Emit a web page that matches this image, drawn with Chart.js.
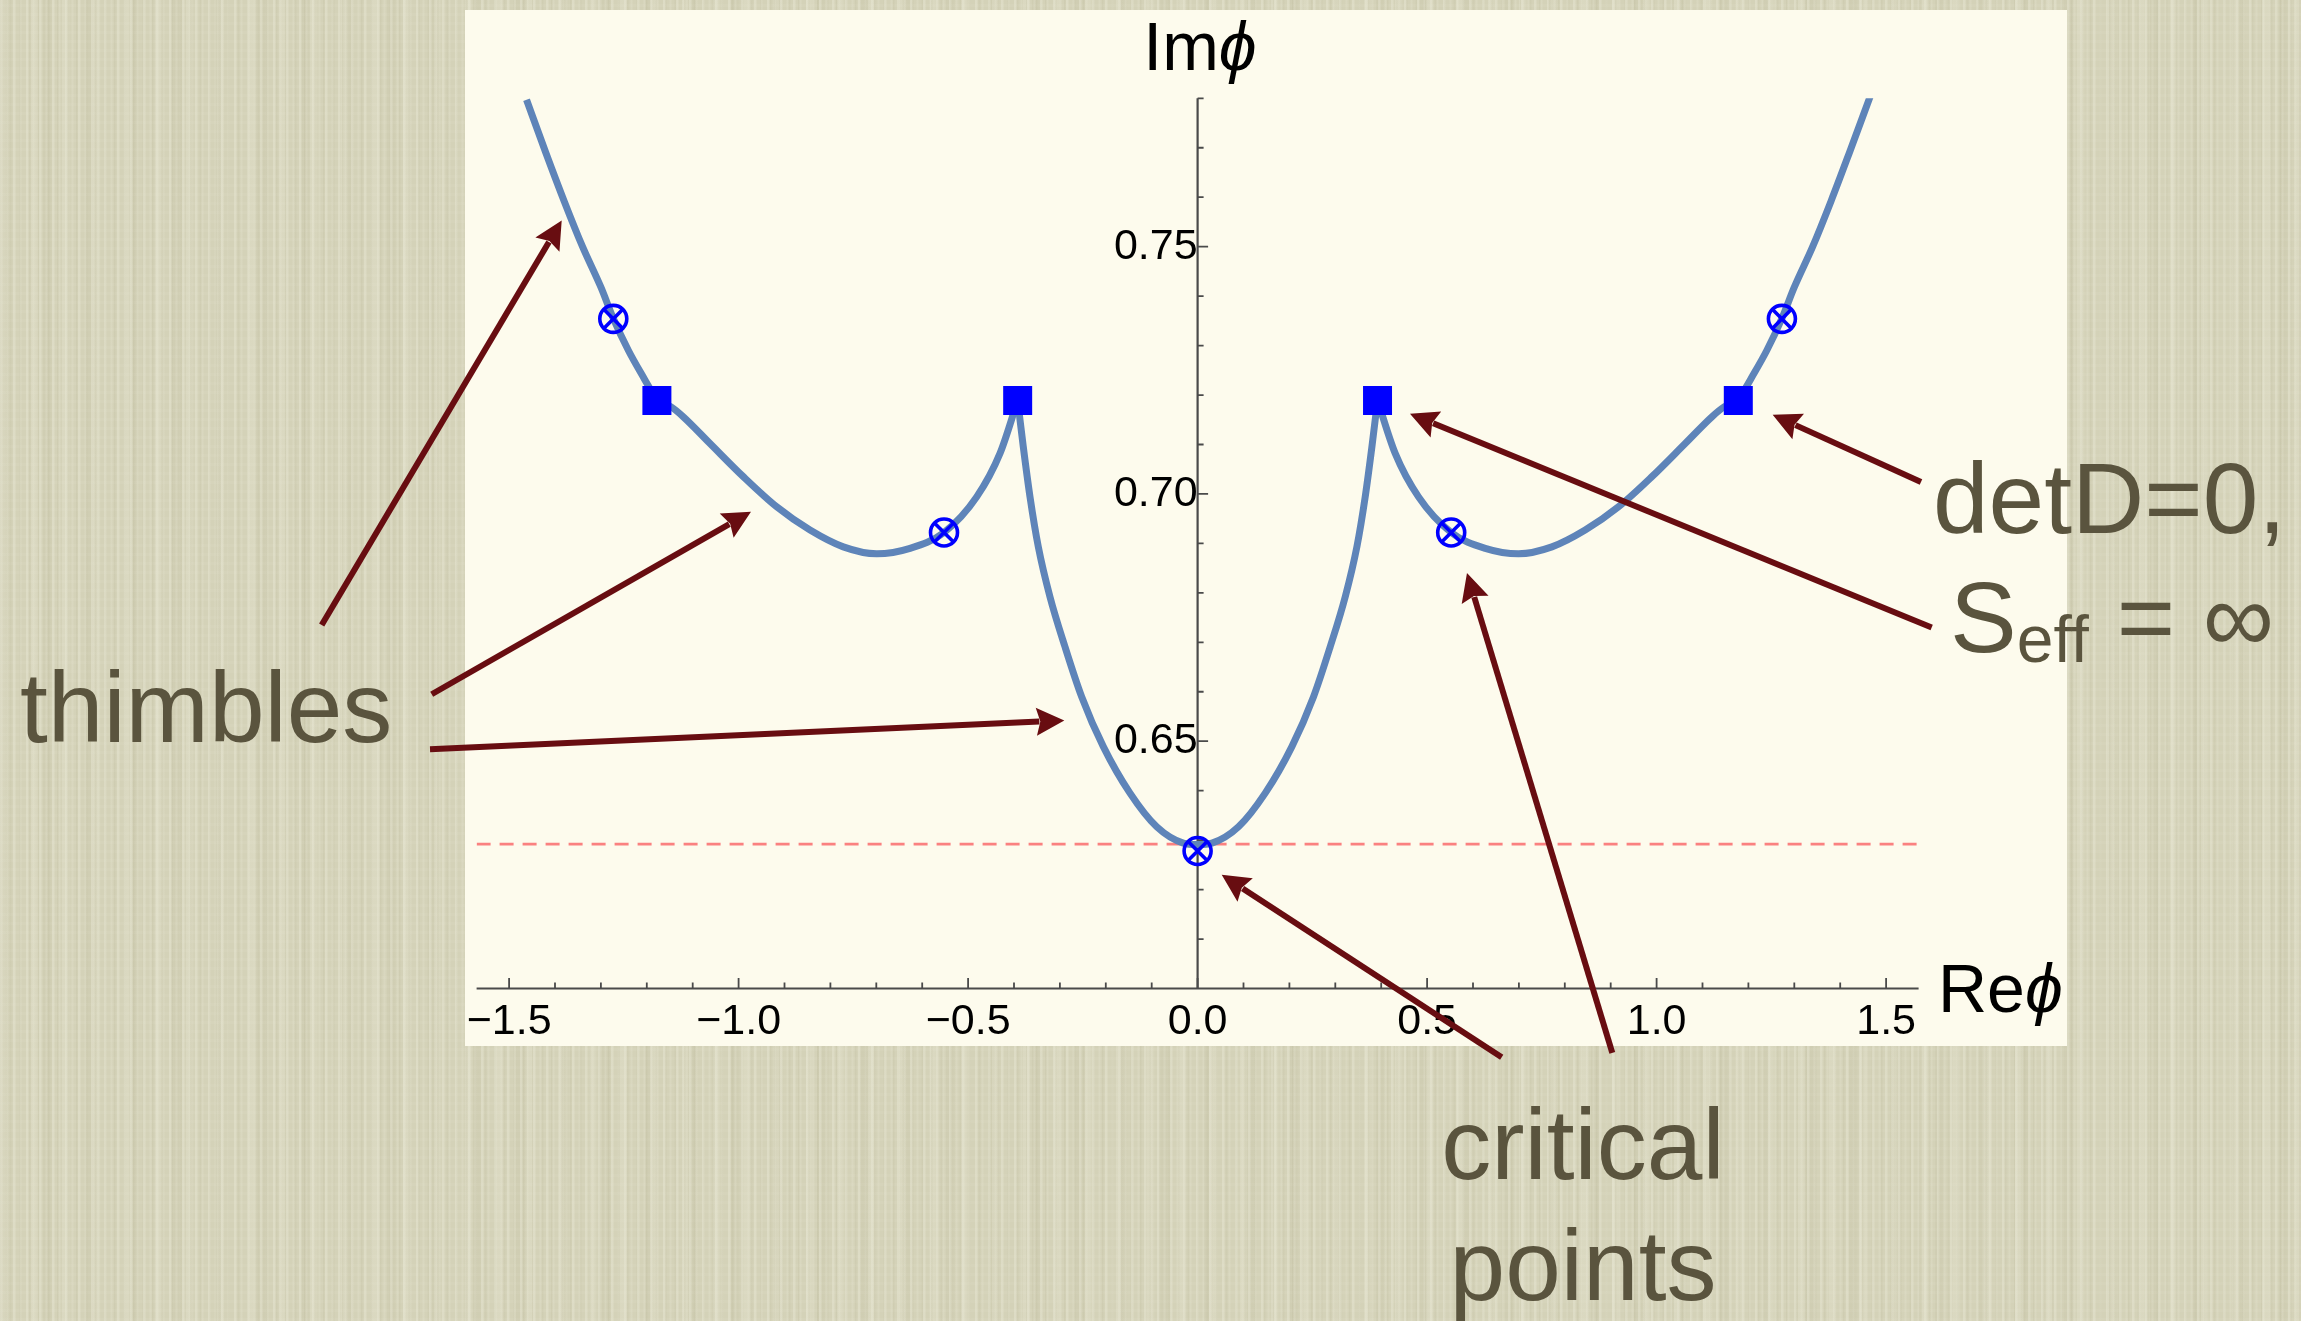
<!DOCTYPE html>
<html>
<head>
<meta charset="utf-8">
<title>Thimbles and critical points</title>
<script src="https://cdn.jsdelivr.net/npm/chart.js@4.4.1/dist/chart.umd.min.js"></script>
<style>
  html, body { margin: 0; padding: 0; }
  body {
    width: 2301px;
    height: 1321px;
    overflow: hidden;
    position: relative;
    font-family: "Liberation Sans", Arial, Helvetica, sans-serif;
    background-color: #d4d2b8;
    /* linen-like vertical streaks */
    background-image:
      repeating-linear-gradient(90deg, rgba(232,231,212,0.45) 0 2px, rgba(232,231,212,0) 3px 6px, rgba(232,231,212,0.25) 7px 8px, rgba(232,231,212,0) 9px 13px),
      repeating-linear-gradient(90deg, rgba(170,166,132,0.12) 0 1px, rgba(170,166,132,0) 2px 9px, rgba(170,166,132,0.10) 10px 11px, rgba(170,166,132,0) 12px 19px),
      repeating-linear-gradient(90deg, rgba(240,239,222,0.22) 0 5px, rgba(240,239,222,0) 8px 31px),
      repeating-linear-gradient(90deg, rgba(160,156,120,0.08) 0 7px, rgba(160,156,120,0) 10px 43px),
      repeating-linear-gradient(0deg, rgba(255,255,240,0.05) 0 3px, rgba(0,0,0,0) 3px 9px);
  }
  #panel { position: absolute; left: 465px; top: 10px; width: 1602px; height: 1036px; background: #fdfbed; }
  #plot { position: absolute; left: 0; top: 0; }
  .note { position: absolute; color: #5a543e; font-size: 100px; line-height: 1; white-space: nowrap; }
  .axis-title { position: absolute; color: #000; font-size: 68px; line-height: 1; white-space: nowrap; }
  .phi { font-style: italic; }
</style>
</head>
<body>
<div id="panel"></div>
<canvas id="plot" width="2301" height="1321"></canvas>

<div class="axis-title" style="left:1100px; top:12.4px; width:200px; text-align:center;">Im<span class="phi">ϕ</span></div>
<div class="axis-title" style="left:1938px; top:954.4px;">Re<span class="phi">ϕ</span></div>

<div class="note" style="left:20px; top:657.4px;">thimbles</div>
<div class="note" style="left:1933px; top:448.4px;">detD=0,</div>
<div class="note" style="left:1950px; top:567.4px;">S<span style="font-size:66px; position:relative; top:10px;">eff</span> = ∞</div>
<div class="note" style="left:1383px; top:1084px; width:400px; text-align:center; line-height:121px;">critical<br>points</div>

<script>
// axis ranges
const xMin = -1.5708, xMax = 1.5708;
const yMin = 0.60, yMax = 0.78;

// tick positions and labels
const xMajorTicks = [-1.5, -1.0, -0.5, 0, 0.5, 1.0, 1.5];
const xTickLabels = ['\u22121.5', '\u22121.0', '\u22120.5', '0.0', '0.5', '1.0', '1.5'];
const xMinorTicks = [-1.4, -1.3, -1.2, -1.1, -0.9, -0.8, -0.7, -0.6, -0.4, -0.3, -0.2, -0.1,
                     0.1, 0.2, 0.3, 0.4, 0.6, 0.7, 0.8, 0.9, 1.1, 1.2, 1.3, 1.4];
const yMajorTicks = [0.65, 0.70, 0.75];
const yTickLabels = ['0.65', '0.70', '0.75'];
const yMinorTicks = [0.61, 0.62, 0.63, 0.64, 0.66, 0.67, 0.68, 0.69, 0.71, 0.72, 0.73, 0.74,
                     0.76, 0.77, 0.78];

// thimble branches, split at the detD=0 points
const leftOuterX   = [-1.462, -1.420, -1.380, -1.340, -1.300, -1.273, -1.240, -1.205, -1.178];
const leftOuterY   = [0.7797, 0.7690, 0.7592, 0.7500, 0.7418, 0.7355, 0.7290, 0.7232, 0.7189];
const leftValleyX  = [-1.178, -1.147, -1.1205, -1.0623, -0.9898, -0.917, -0.8444, -0.7719, -0.699, -0.6266, -0.5525, -0.4813, -0.4305, -0.392];
const leftValleyY  = [0.7189, 0.7176, 0.7156, 0.7102, 0.7035, 0.6974, 0.6927, 0.6893, 0.6879, 0.6890, 0.6922, 0.6994, 0.7082, 0.7189];
const centreX      = [-0.392, -0.3797, -0.3651, -0.347, -0.3216, -0.2889, -0.2526, -0.2054, -0.1473, -0.0891, -0.0312, 0,
                      0.0312, 0.0891, 0.1473, 0.2054, 0.2526, 0.2889, 0.3216, 0.347, 0.3651, 0.3797, 0.392];
const centreY      = [0.7189, 0.7095, 0.6994, 0.6893, 0.6792, 0.6691, 0.6590, 0.6489, 0.6395, 0.6327, 0.6294, 0.6291,
                      0.6294, 0.6327, 0.6395, 0.6489, 0.6590, 0.6691, 0.6792, 0.6893, 0.6994, 0.7095, 0.7189];
const rightValleyX = [0.392, 0.4305, 0.4813, 0.5525, 0.6266, 0.699, 0.7719, 0.8444, 0.917, 0.9898, 1.0623, 1.1205, 1.147, 1.178];
const rightValleyY = [0.7189, 0.7082, 0.6994, 0.6922, 0.6890, 0.6879, 0.6893, 0.6927, 0.6974, 0.7035, 0.7102, 0.7156, 0.7176, 0.7189];
const rightOuterX  = [1.178, 1.205, 1.240, 1.273, 1.300, 1.340, 1.380, 1.420, 1.465];
const rightOuterY  = [0.7189, 0.7232, 0.7290, 0.7355, 0.7418, 0.7500, 0.7592, 0.7690, 0.7803];

// detD = 0 points (squares) and critical points (circled crosses)
const singularX = [-1.178, -0.392, 0.392, 1.178];
const singularY = [0.7189, 0.7189, 0.7189, 0.7189];
const criticalX = [-1.273, -0.5525, 0, 0.5525, 1.273];
const criticalY = [0.7354, 0.6922, 0.6278, 0.6922, 0.7354];

// horizontal reference level
const refLevel = 0.6292;

// annotation arrows, tail -> tip, in axis units
const arrowTailX = [-1.9083, -1.6686, -1.6723, 1.576, 1.5993, 0.6625, 0.9035];
const arrowTailY = [0.6735, 0.6595, 0.6484, 0.7024, 0.6730, 0.5861, 0.5870];
const arrowTipX  = [-1.3854, -0.973, -0.2904, 1.2529, 0.4627, 0.0525, 0.5869];
const arrowTipY  = [0.7553, 0.6964, 0.6542, 0.7160, 0.7162, 0.6230, 0.6840];

const curveColor = '#5e84b9';
const markColor = '#0000ff';
const axisColor = '#4a4a4a';
const arrowColor = '#680d11';
const fontFamily = '"Liberation Sans", Arial, Helvetica, sans-serif';

function toPoints(xs, ys) {
    return xs.map((x, i) => ({ x: x, y: ys[i] }));
}

function branch(xs, ys) {
    return {
        data: toPoints(xs, ys),
        borderColor: curveColor,
        borderWidth: 7,
        pointRadius: 0,
        pointHoverRadius: 0,
        fill: false,
        cubicInterpolationMode: 'monotone',
        order: 2
    };
}

// axes crossing at x=0 / y=0.6 with ticks pointing inward
const insideAxes = {
    id: 'insideAxes',
    beforeDatasetsDraw(chart) {
        const { ctx, chartArea: a, scales: { x, y } } = chart;
        const x0 = x.getPixelForValue(0);
        const yb = y.getPixelForValue(yMin);
        ctx.save();
        ctx.strokeStyle = axisColor;
        ctx.lineWidth = 2.2;
        ctx.beginPath();
        ctx.moveTo(a.left, yb);
        ctx.lineTo(a.right, yb);
        ctx.moveTo(x0, yb);
        ctx.lineTo(x0, a.top);
        ctx.stroke();

        ctx.lineWidth = 1.8;
        ctx.beginPath();
        xMajorTicks.forEach(v => {
            const p = x.getPixelForValue(v);
            ctx.moveTo(p, yb);
            ctx.lineTo(p, yb - 10.5);
        });
        xMinorTicks.forEach(v => {
            const p = x.getPixelForValue(v);
            ctx.moveTo(p, yb);
            ctx.lineTo(p, yb - 6);
        });
        yMajorTicks.forEach(v => {
            const p = y.getPixelForValue(v);
            ctx.moveTo(x0, p);
            ctx.lineTo(x0 + 10.5, p);
        });
        yMinorTicks.forEach(v => {
            const p = y.getPixelForValue(v);
            ctx.moveTo(x0, p);
            ctx.lineTo(x0 + 6, p);
        });
        ctx.stroke();
        ctx.restore();
    }
};

// dark red arrows from the labels to the curve
const annotationArrows = {
    id: 'annotationArrows',
    afterDraw(chart) {
        const { ctx, scales: { x, y } } = chart;
        const headLen = 28, headHalf = 14;
        ctx.save();
        ctx.strokeStyle = arrowColor;
        ctx.fillStyle = arrowColor;
        ctx.lineWidth = 6;
        ctx.lineCap = 'butt';
        for (let i = 0; i < arrowTipX.length; i++) {
            const x1 = x.getPixelForValue(arrowTailX[i]);
            const y1 = y.getPixelForValue(arrowTailY[i]);
            const x2 = x.getPixelForValue(arrowTipX[i]);
            const y2 = y.getPixelForValue(arrowTipY[i]);
            const ang = Math.atan2(y2 - y1, x2 - x1);
            const bx = x2 - headLen * Math.cos(ang);
            const by = y2 - headLen * Math.sin(ang);
            ctx.beginPath();
            ctx.moveTo(x1, y1);
            ctx.lineTo(bx + 3 * Math.cos(ang), by + 3 * Math.sin(ang));
            ctx.stroke();
            ctx.beginPath();
            ctx.moveTo(x2, y2);
            ctx.lineTo(bx - headHalf * Math.sin(ang), by + headHalf * Math.cos(ang));
            ctx.lineTo(bx + 4 * Math.cos(ang), by + 4 * Math.sin(ang));
            ctx.lineTo(bx + headHalf * Math.sin(ang), by - headHalf * Math.cos(ang));
            ctx.closePath();
            ctx.fill();
        }
        ctx.restore();
    }
};

new Chart(document.getElementById('plot'), {
    type: 'line',
    data: {
        datasets: [
            {
                data: [{ x: xMin, y: refLevel }, { x: xMax, y: refLevel }],
                borderColor: 'rgba(250, 115, 115, 0.9)',
                borderWidth: 2.8,
                borderDash: [14, 9],
                pointRadius: 0,
                fill: false,
                order: 3
            },
            branch(leftOuterX, leftOuterY),
            branch(leftValleyX, leftValleyY),
            branch(centreX, centreY),
            branch(rightValleyX, rightValleyY),
            branch(rightOuterX, rightOuterY),
            {
                data: toPoints(singularX, singularY),
                showLine: false,
                pointStyle: 'rect',
                pointRadius: 20.5,
                pointBackgroundColor: markColor,
                pointBorderWidth: 0,
                order: 1
            },
            {
                data: toPoints(criticalX, criticalY),
                showLine: false,
                pointStyle: 'circle',
                pointRadius: 13.5,
                pointBackgroundColor: 'rgba(0,0,0,0)',
                pointBorderColor: markColor,
                pointBorderWidth: 3.6,
                order: 0
            },
            {
                data: toPoints(criticalX, criticalY),
                showLine: false,
                pointStyle: 'crossRot',
                pointRadius: 13.5,
                pointBorderColor: markColor,
                pointBorderWidth: 3.6,
                order: 0
            }
        ]
    },
    options: {
        responsive: false,
        devicePixelRatio: 1,
        animation: false,
        events: [],
        layout: { padding: { left: 476.6, right: 382.4, top: 98.3, bottom: 332.5 } },
        scales: {
            x: {
                type: 'linear',
                min: xMin,
                max: xMax,
                position: { y: yMin },
                grid: { display: false, drawTicks: false },
                border: { display: false },
                afterBuildTicks: scale => { scale.ticks = xMajorTicks.map(v => ({ value: v })); },
                ticks: {
                    autoSkip: false,
                    maxRotation: 0,
                    padding: 8,
                    color: '#000',
                    font: { family: fontFamily, size: 43 },
                    callback: (value, index) => xTickLabels[index]
                }
            },
            y: {
                type: 'linear',
                min: yMin,
                max: yMax,
                position: { x: 0 },
                grid: { display: false, drawTicks: false },
                border: { display: false },
                afterBuildTicks: scale => { scale.ticks = yMajorTicks.map(v => ({ value: v })); },
                ticks: {
                    autoSkip: false,
                    padding: 10,
                    color: '#000',
                    font: { family: fontFamily, size: 43 },
                    callback: (value, index) => yTickLabels[index]
                }
            }
        },
        plugins: {
            legend: { display: false },
            tooltip: { enabled: false }
        }
    },
    plugins: [insideAxes, annotationArrows]
});
</script>
</body>
</html>
